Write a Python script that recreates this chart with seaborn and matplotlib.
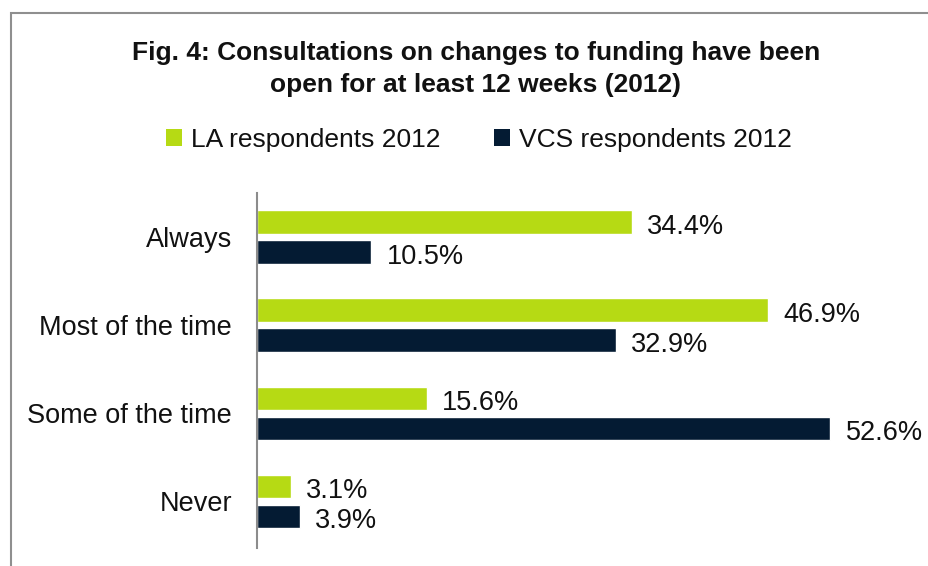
import pandas as pd
import seaborn as sns
import matplotlib.pyplot as plt
from matplotlib.patches import Patch, Rectangle

# Data
categories = ['Always', 'Most of the time', 'Some of the time', 'Never']
series_names = ['LA respondents 2012', 'VCS respondents 2012']
la_values = [34.4, 46.9, 15.6, 3.1]
vcs_values = [10.5, 32.9, 52.6, 3.9]
colors = ['#B6DA14', '#041B33']

df = pd.DataFrame({
    'category': categories * 2,
    'group': [series_names[0]] * 4 + [series_names[1]] * 4,
    'value': la_values + vcs_values,
})

sns.set_style('white')
plt.rcParams['font.family'] = ['Liberation Sans', 'DejaVu Sans']

fig = plt.figure(figsize=(9.29, 5.66), dpi=100)

# gray frame, only top and left edge visible
fig.patches.append(Rectangle((11 / 929, -0.1), 1.2, 1 - 13 / 566 + 0.1,
                             transform=fig.transFigure, fill=False,
                             edgecolor='#8f8f8f', linewidth=1.5))

ax = fig.add_axes([257 / 929, 18 / 566, 654 / 929, 355 / 566])
sns.barplot(data=df, y='category', x='value', hue='group', orient='h',
            palette=colors, width=0.68, gap=0.22, ax=ax, legend=False,
            saturation=1)

for cont in ax.containers:
    labels = ax.bar_label(cont, fmt='%.1f%%', padding=11, fontsize=19.5, color='#111111')
    # labels sit a little below the bar centre in the original
    for lab in labels:
        lab.xyann = (11, -3.5)

ax.set_xlim(0, 60)
ax.set_ylim(3.53, -0.5)
ax.set_xlabel('')
ax.set_ylabel('')
ax.set_xticks([])
ax.tick_params(axis='y', length=0, pad=18, labelsize=19.5, labelcolor='#111111')
for side in ['top', 'right', 'bottom']:
    ax.spines[side].set_visible(False)
ax.spines['left'].set_color('#8c8c8c')
ax.spines['left'].set_linewidth(1.5)

fig.text(476 / 929, 1 - 69 / 566,
         'Fig. 4: Consultations on changes to funding have been\nopen for at least 12 weeks (2012)',
         ha='center', va='center', fontsize=19, fontweight='bold',
         linespacing=1.4, color='#111111')

handles = [Patch(facecolor=c, edgecolor='none') for c in colors]
fig.legend(handles, series_names, loc='center', bbox_to_anchor=(479 / 929, 1 - 140 / 566),
           ncol=2, frameon=False, fontsize=19, handlelength=0.62, handleheight=0.62,
           handletextpad=0.35, columnspacing=2.0, labelcolor='#111111')

fig.savefig('out.png', dpi=100)
